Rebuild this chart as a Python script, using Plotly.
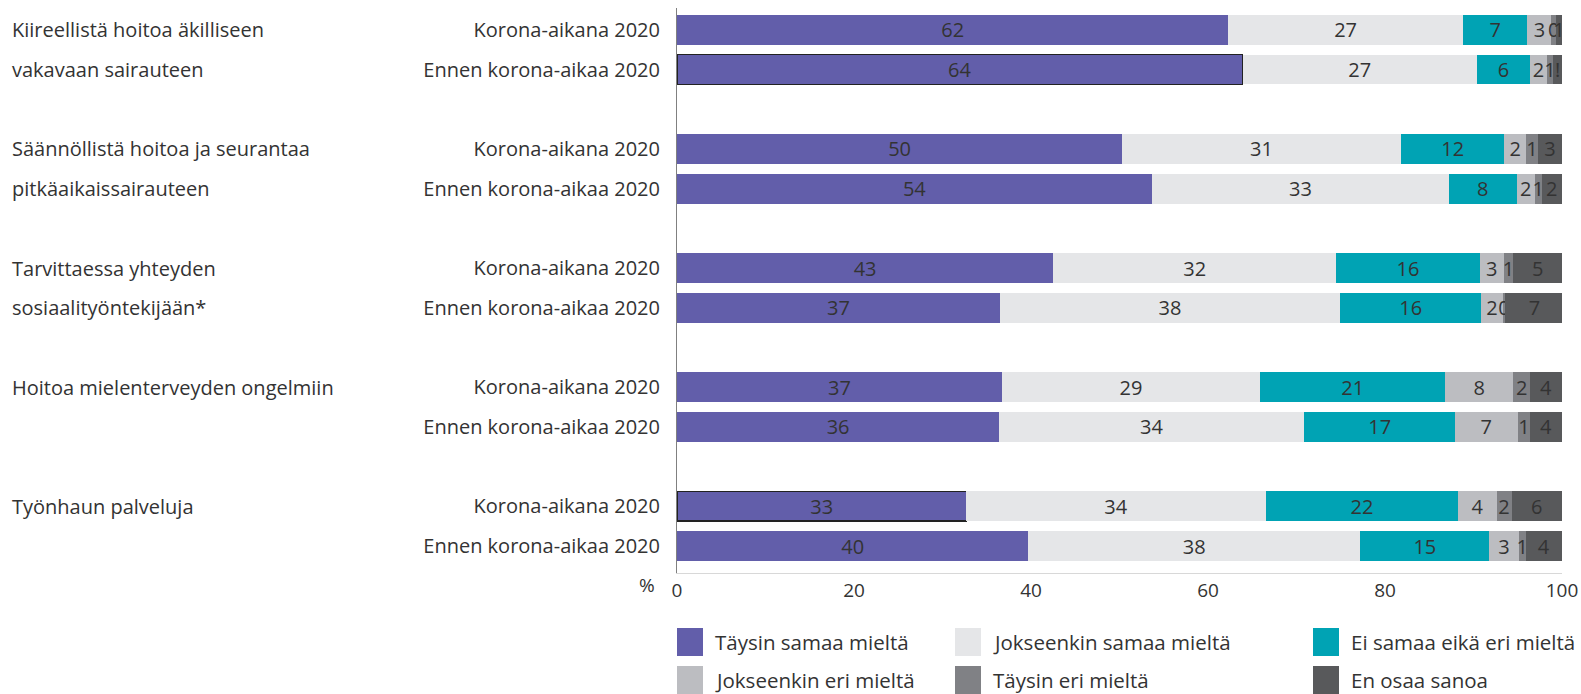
import plotly.graph_objects as go

groups = [
    "Kiireellistä hoitoa äkilliseen|vakavaan sairauteen",
    "Säännöllistä hoitoa ja seurantaa|pitkäaikaissairauteen",
    "Tarvittaessa yhteyden|sosiaalityöntekijään*",
    "Hoitoa mielenterveyden ongelmiin|",
    "Työnhaun palveluja|",
]
periods = ["Korona-aikana 2020", "Ennen korona-aikaa 2020"]

series_names = [
    "Täysin samaa mieltä",
    "Jokseenkin samaa mieltä",
    "Ei samaa eikä eri mieltä",
    "Jokseenkin eri mieltä",
    "Täysin eri mieltä",
    "En osaa sanoa",
]
colors = ["#625EAA", "#E5E6E8", "#00A3B4", "#BCBDC1", "#808185", "#58595B"]

# rows in order: group1 korona, group1 ennen, group2 korona, ...
taysin_samaa = [62.3, 63.9, 50.3, 53.7, 42.5, 36.5, 36.7, 36.4, 32.7, 39.7]
jokseenkin_samaa = [26.5, 26.5, 31.5, 33.5, 32.0, 38.4, 29.2, 34.5, 33.8, 37.5]
ei_samaa_eika_eri = [7.3, 6.0, 11.7, 7.7, 16.2, 16.0, 20.9, 17.0, 21.8, 14.6]
jokseenkin_eri = [2.7, 1.9, 2.4, 2.0, 2.7, 2.4, 7.7, 7.1, 4.3, 3.3]
taysin_eri = [0.5, 0.7, 1.4, 0.8, 1.1, 0.3, 1.9, 1.4, 1.7, 0.8]
en_osaa = [0.7, 1.0, 2.7, 2.3, 5.5, 6.6, 3.6, 3.6, 5.7, 4.1]

lab_taysin_samaa = ["62", "64", "50", "54", "43", "37", "37", "36", "33", "40"]
lab_jokseenkin_samaa = ["27", "27", "31", "33", "32", "38", "29", "34", "34", "38"]
lab_ei = ["7", "6", "12", "8", "16", "16", "21", "17", "22", "15"]
lab_jokseenkin_eri = ["3", "2", "2", "2", "3", "2", "8", "7", "4", "3"]
lab_taysin_eri = ["0", "1", "1", "1", "1", "0", "2", "1", "2", "1"]
lab_en_osaa = ["1", "!", "3", "2", "5", "7", "4", "4", "6", "4"]

values = [taysin_samaa, jokseenkin_samaa, ei_samaa_eika_eri, jokseenkin_eri, taysin_eri, en_osaa]
labels = [lab_taysin_samaa, lab_jokseenkin_samaa, lab_ei, lab_jokseenkin_eri, lab_taysin_eri, lab_en_osaa]

x_ticks = [0, 20, 40, 60, 80, 100]

FONT = "Open Sans"
TXT = "#333333"
FS = 20

ypos = []
yticktext = []
for gi, g in enumerate(groups):
    for pi, p in enumerate(periods):
        ypos.append(gi * 3 + pi)
        yticktext.append(p)

# outlined bars (selection artifacts in original)
outline = [0, 1.5, 0, 0, 0, 0, 0, 0, 1.5, 0]

fig = go.Figure()
for si, name in enumerate(series_names):
    fig.add_trace(go.Bar(
        y=ypos, x=values[si], orientation="h", name=name,
        marker=dict(color=colors[si],
                    line=dict(width=outline if si == 0 else 0, color="#222222")),
        text=labels[si], textposition="inside", insidetextanchor="middle",
        constraintext="none", textangle=0,
        textfont=dict(family=FONT, size=FS, color=TXT),
        width=0.75, showlegend=False,
    ))

W, H = 1581, 694
L = 677
R = W - 1562
T = 8
B = H - 573
pw = W - L - R
ph = H - T - B


def px_x(page_x):
    return (page_x - L) / pw


def px_y(page_y):
    return (H - B - page_y) / ph


annotations = []
for gi, g in enumerate(groups):
    for li, line in enumerate(g.split("|")):
        if line:
            annotations.append(dict(
                x=px_x(10), xref="paper", xanchor="left",
                y=gi * 3 + li, yref="y", yanchor="middle",
                text=line, showarrow=False,
                font=dict(family=FONT, size=FS, color=TXT)))
annotations.append(dict(x=px_x(657), xref="paper", xanchor="right",
                        y=px_y(585), yref="paper", yanchor="middle",
                        text="%", showarrow=False,
                        font=dict(family=FONT, size=19, color=TXT)))

# manual legend
shapes = []
leg_cols = [677, 955, 1313]
leg_rows = [642, 680]
for i, name in enumerate(series_names):
    cx = leg_cols[i % 3]
    cy = leg_rows[i // 3]
    shapes.append(dict(type="rect", xref="paper", yref="paper",
                       x0=px_x(cx), x1=px_x(cx + 26),
                       y0=px_y(cy + 14), y1=px_y(cy - 14),
                       fillcolor=colors[i], line=dict(width=0)))
    annotations.append(dict(x=px_x(cx + 36), xref="paper", xanchor="left",
                            y=px_y(cy), yref="paper", yanchor="middle",
                            text=name, showarrow=False,
                            font=dict(family=FONT, size=20.5, color=TXT)))

fig.update_layout(
    barmode="stack",
    width=W, height=H,
    margin=dict(l=L, r=R, t=T, b=B, autoexpand=False),
    paper_bgcolor="white", plot_bgcolor="white",
    font=dict(family=FONT, size=19, color=TXT),
    showlegend=False,
    xaxis=dict(range=[0, 100], tickvals=x_ticks, ticktext=[str(v) for v in x_ticks],
               showgrid=False, zeroline=False, showline=True, linecolor="#D8D8D8",
               linewidth=1, ticks="", ticklabeloverflow="allow",
               tickfont=dict(family=FONT, size=19, color=TXT)),
    yaxis=dict(range=[13.68, -0.55], tickvals=ypos, ticktext=yticktext,
               showgrid=False, zeroline=False, showline=True, linecolor="#808080",
               linewidth=1, ticks="", ticklabelstandoff=12,
               tickfont=dict(family=FONT, size=FS, color=TXT)),
    annotations=annotations,
    shapes=shapes,
)

fig.write_html("out.html",
               config={"displayModeBar": False},
               post_script="document.body.style.margin='0';document.body.style.overflow='hidden';")
